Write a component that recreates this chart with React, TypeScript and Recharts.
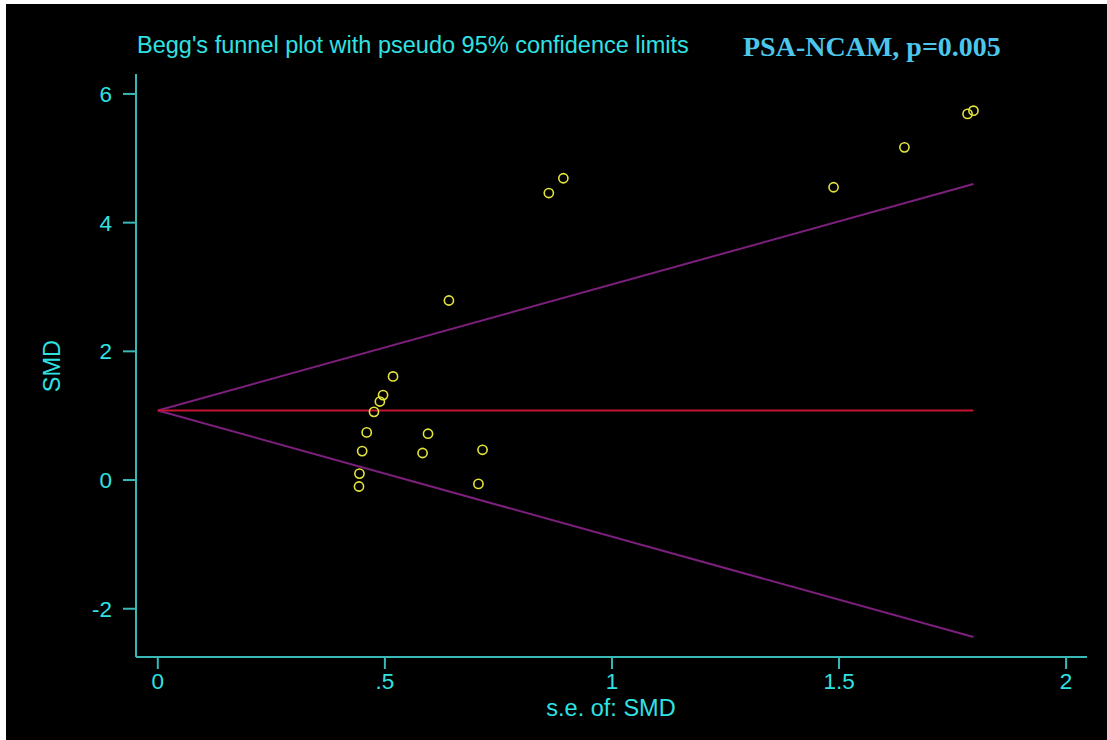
import React from "react";
import {
  ScatterChart,
  Scatter,
  XAxis,
  YAxis,
  ReferenceLine,
  Customized,
} from "recharts";

// ---- data ----
const seValues = [
  0.641, 0.861, 0.893, 1.488, 1.644, 1.783, 1.796,
  0.518, 0.496, 0.489, 0.476, 0.46, 0.595, 0.45, 0.583, 0.715, 0.444, 0.443, 0.706,
];
const smdValues = [
  2.79, 4.46, 4.69, 4.55, 5.17, 5.69, 5.74,
  1.61, 1.32, 1.22, 1.06, 0.74, 0.72, 0.45, 0.42, 0.47, 0.1, -0.1, -0.06,
];
const pooledSMD = 1.08;
const funnelSe = [0, 1.796];
const zCrit = 1.96;
const xTicks = [0, 0.5, 1, 1.5, 2];
const xTickLabels = ["0", ".5", "1", "1.5", "2"];
const yTicks = [-2, 0, 2, 4, 6];
const titleText = "Begg's funnel plot with pseudo 95% confidence limits";
const annotationText = "PSA-NCAM, p=0.005";
const xLabel = "s.e. of: SMD";
const yLabel = "SMD";

const points = seValues.map((se, i) => ({ se, smd: smdValues[i] }));
const upperLine = funnelSe.map((se) => ({ x: se, y: pooledSMD + zCrit * se }));
const lowerLine = funnelSe.map((se) => ({ x: se, y: pooledSMD - zCrit * se }));
const centerLine = funnelSe.map((se) => ({ x: se, y: pooledSMD }));

const CYAN = "#30e2e2";
const AXIS = "#3ab8b8";
const PURPLE = "#7d1f7d";
const RED = "#c41530";
const YELLOW = "#e4e43a";
const FONT = "'Liberation Sans', Arial, Helvetica, sans-serif";

const Ring = (props: any) => {
  const { cx, cy } = props;
  if (cx == null || cy == null) return null;
  return <circle cx={cx} cy={cy} r={4.6} fill="none" stroke={YELLOW} strokeWidth={1.6} />;
};

const Texts = () => (
  <g>
    <text x={131} y={49} fill={CYAN} fontSize={23.5} fontFamily={FONT}>
      {titleText}
    </text>
    <text
      x={737}
      y={52}
      fill="#4cc6ea"
      fontSize={28}
      fontWeight="bold"
      fontFamily="'Liberation Serif', 'Times New Roman', serif"
    >
      {annotationText}
    </text>
    <text x={605} y={712} fill={CYAN} fontSize={23.5} fontFamily={FONT} textAnchor="middle">
      {xLabel}
    </text>
    <text
      x={54}
      y={362}
      fill={CYAN}
      fontSize={23.5}
      fontFamily={FONT}
      textAnchor="middle"
      transform="rotate(-90 54 362)"
    >
      {yLabel}
    </text>
  </g>
);

export default function App() {
  return (
    <div style={{ position: "absolute", left: 0, top: 0, width: 1107, height: 740, background: "#fff" }}>
      <div style={{ position: "absolute", left: 6, top: 4, width: 1101, height: 736, background: "#000" }}>
        <ScatterChart width={1101} height={736} margin={{ top: 70, right: 20, bottom: 0, left: 0 }}>
          <XAxis
            type="number"
            dataKey="se"
            domain={[-0.048, 2.046]}
            ticks={xTicks}
            allowDataOverflow
            height={83}
            tickSize={12}
            tickMargin={4}
            tickFormatter={(v: number) => xTickLabels[xTicks.indexOf(v)] ?? String(v)}
            axisLine={{ stroke: AXIS, strokeWidth: 2 }}
            tickLine={{ stroke: AXIS, strokeWidth: 2 }}
            tick={{ fill: CYAN, fontSize: 22.5, fontFamily: FONT }}
          />
          <YAxis
            type="number"
            dataKey="smd"
            domain={[-2.75, 6.31]}
            ticks={yTicks}
            allowDataOverflow
            width={130}
            tickSize={13}
            tickMargin={11}
            axisLine={{ stroke: AXIS, strokeWidth: 2 }}
            tickLine={{ stroke: AXIS, strokeWidth: 2 }}
            tick={{ fill: CYAN, fontSize: 22.5, fontFamily: FONT }}
          />
          <ReferenceLine
            segment={[upperLine[0], upperLine[1]]}
            stroke={PURPLE}
            strokeWidth={2}
            ifOverflow="visible"
          />
          <ReferenceLine
            segment={[lowerLine[0], lowerLine[1]]}
            stroke={PURPLE}
            strokeWidth={2}
            ifOverflow="visible"
          />
          <ReferenceLine
            segment={[centerLine[0], centerLine[1]]}
            stroke={RED}
            strokeWidth={2}
            ifOverflow="visible"
          />
          <Scatter data={points} shape={Ring} isAnimationActive={false} />
          <Customized component={Texts} />
        </ScatterChart>
      </div>
    </div>
  );
}
